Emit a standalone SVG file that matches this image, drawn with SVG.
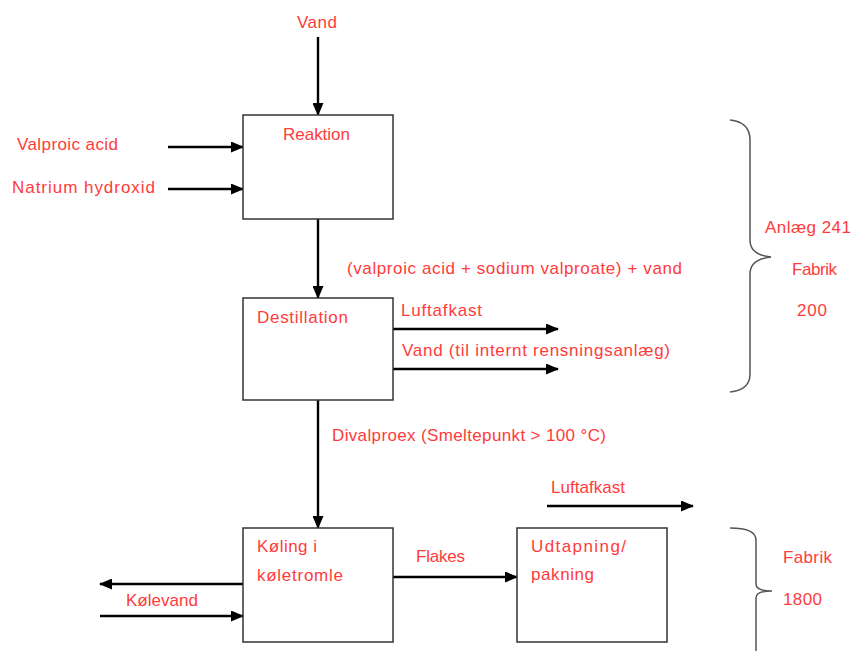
<svg xmlns="http://www.w3.org/2000/svg" width="853" height="651" viewBox="0 0 853 651">
<style>
text{font-family:"Liberation Sans",Arial,sans-serif;font-size:17px;fill:#ff3b3b}
.box{fill:#fff;stroke:#333;stroke-width:1.5}
.ar{stroke:#000;stroke-width:2.4;fill:none;marker-end:url(#ah)}
.br{stroke:#555;stroke-width:1.5;fill:none}
</style>
<defs>
<marker id="ah" markerWidth="13" markerHeight="11" refX="12" refY="5.5" orient="auto" markerUnits="userSpaceOnUse">
<path d="M0,0 L13,5.5 L0,11 Z" fill="#000"/>
</marker>
</defs>
<rect width="853" height="651" fill="#fff"/>
<g id="connectors">
<line class="ar" x1="318" y1="37" x2="318" y2="115"/>
<line class="ar" x1="168" y1="147" x2="243" y2="147"/>
<line class="ar" x1="168" y1="189" x2="243" y2="189"/>
<line class="ar" x1="318" y1="218" x2="318" y2="298"/>
<line class="ar" x1="393" y1="329" x2="558" y2="329"/>
<line class="ar" x1="393" y1="369" x2="558" y2="369"/>
<line class="ar" x1="318" y1="400" x2="318" y2="528"/>
<line class="ar" x1="243" y1="584" x2="100" y2="584"/>
<line class="ar" x1="100" y1="616" x2="243" y2="616"/>
<line class="ar" x1="393" y1="577" x2="517" y2="577"/>
<line class="ar" x1="547" y1="506" x2="693" y2="506"/>
</g>
<g id="reaktion">
<rect class="box" x="243" y="115" width="150" height="104"/>
<text x="283" y="140" textLength="67">Reaktion</text>
</g>
<g id="destillation">
<rect class="box" x="243" y="298" width="150" height="102"/>
<text x="257" y="323" textLength="91">Destillation</text>
</g>
<g id="koling">
<rect class="box" x="243" y="528" width="150" height="114"/>
<text x="257" y="552" textLength="60">Køling i</text>
<text x="257" y="581" textLength="86">køletromle</text>
</g>
<g id="udtapning">
<rect class="box" x="517" y="528" width="150" height="114"/>
<text x="531" y="552" textLength="95">Udtapning/</text>
<text x="531" y="580" textLength="63">pakning</text>
</g>
<g id="labels">
<text x="297" y="28" textLength="40">Vand</text>
<text x="17" y="150" textLength="101">Valproic acid</text>
<text x="12" y="193" textLength="143">Natrium hydroxid</text>
<text x="347" y="274" textLength="335">(valproic acid + sodium valproate) + vand</text>
<text x="401" y="316" textLength="81">Luftafkast</text>
<text x="402" y="356" textLength="268">Vand (til internt rensningsanlæg)</text>
<text x="332" y="441" textLength="274">Divalproex (Smeltepunkt &gt; 100 °C)</text>
<text x="126" y="606" textLength="72">Kølevand</text>
<text x="416" y="562" textLength="49">Flakes</text>
<text x="551" y="493" textLength="74">Luftafkast</text>
<text x="765" y="233" textLength="86">Anlæg 241</text>
<text x="792" y="275" textLength="45">Fabrik</text>
<text x="797" y="316" textLength="30">200</text>
<text x="783" y="563" textLength="49">Fabrik</text>
<text x="783" y="605" textLength="39">1800</text>
</g>
<g id="braces">
<path class="br" d="M730,120 Q750,122 750,140 L750,240 Q750,255 771,257 Q750,259 750,274 L750,374 Q750,390 730,392"/>
<path class="br" d="M730,528 Q756,528 756,540 L756,584 Q756,591 772,591 Q756,591 756,598 L756,651"/>
</g>
</svg>
